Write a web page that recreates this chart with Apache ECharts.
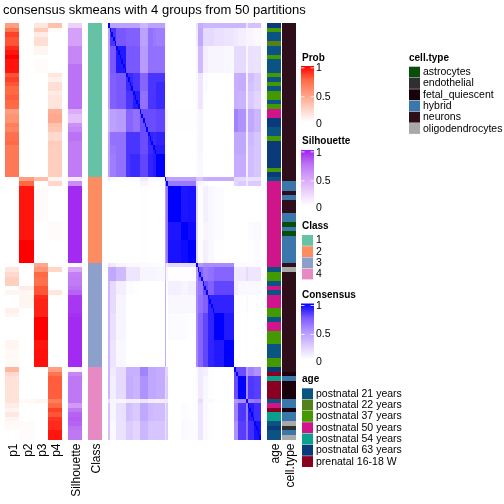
<!DOCTYPE html>
<html><head><meta charset="utf-8">
<style>html,body{margin:0;padding:0;background:#fff}#c{width:504px;height:504px}</style>
<script src="https://cdn.jsdelivr.net/npm/echarts@6/dist/echarts.min.js"></script>
</head><body><div id="c"></div>
<script>
const titleText = 'consensus skmeans with 4 groups from 50 partitions';
const probNames = ['p1','p2','p3','p4'];
const p1 = [.5,.7,.85,.8,.8,.9,.95,1,.95,.95,.95,.8,.85,.8,.75,.75,.78,.75,.75,.5,.55,.55,.65,.62,.72,.72,.75,.68,.68,.68,.68,.68,.68,.68,
 0,0,0,0,0,0,0,0,0,0,0,0,0,0,0,0,0,0,0,
 0,.13,.2,.25,.25,0,.05,0,0,0,.08,.05,0,0,0,0,0,.05,.05,.03,.03,.03,.03,
 .38,.2,.16,.15,.15,.15,.15,.15,.1,.05,.12,.06,.03,.03,0,0];
const p2 = [0,0,0,0,0,0,0,0,0,0,0,0,0,0,0,0,0,0,0,0,0,0,0,0,0,0,0,0,0,0,0,0,0,0,
 .5,.75,.95,.95,.95,.95,.95,.95,.95,.95,.95,.95,.95,.95,1,1,1,1,1,
 0,0,0,0,0,.1,.04,.05,.05,.05,0,0,0,0,0,0,0,0,0,0,0,0,0,
 0,0,0,0,0,0,0,.03,0,0,0,0,.02,.02,.02,.02];
const p3 = [.13,.28,.1,.17,.17,.05,.05,0,.02,.02,.02,0,0,0,0,0,0,0,0,0,0,0,0,0,0,0,0,0,0,0,0,0,0,0,
 .35,0,.02,.02,.02,.02,.02,.02,.02,.02,0,0,0,0,0,0,0,0,0,
 .45,.55,.75,.72,.72,.8,.8,.9,.92,.92,.92,.92,1,1,1,1,1,.95,.95,.96,.96,.96,.96,
 0,0,0,0,0,0,0,.05,0,0,0,0,0,0,0,0];
const p4 = [.33,.03,0,0,0,0,0,0,0,0,0,.13,.07,.17,.17,.1,.14,.14,.14,.42,.45,.45,.32,.3,.2,.2,.27,.26,.26,.26,.26,.26,.26,.26,
 .05,.22,0,0,0,0,0,0,0,0,.02,.02,.02,.02,0,0,0,0,0,
 0,.22,0,0,0,0,.13,0,0,0,0,0,0,0,0,0,0,0,0,0,0,0,0,
 .5,.7,.78,.78,.78,.78,.78,.65,.75,.85,.8,.88,.9,.9,.95,.95];
const silhouette = [.25,.52,.52,.52,.52,.65,.65,.65,.65,.75,.75,.75,.75,.75,.75,.75,.75,.75,.75,.45,.35,.35,.6,.65,.75,.75,.7,.7,.7,.7,.7,.7,.7,.7,
 .12,.62,.97,.97,.97,.97,.97,.97,.97,.97,.97,.97,.97,.97,.97,.97,.97,.97,.97,
 .02,.5,.68,.7,.7,.75,.8,.92,.93,.93,.93,.95,.97,.97,.97,.97,.97,.97,.97,.97,.97,.97,.97,
 .05,.65,.72,.72,.72,.72,.72,.72,.55,.72,.8,.82,.8,.75,.72,.72];
const classLabels = ['1','2','3','4'];
const classRuns = [34,19,23,16];
const ageLabels = ['postnatal 21 years','postnatal 22 years','postnatal 37 years','postnatal 50 years','postnatal 54 years','postnatal 63 years','prenatal 16-18 W'];
const ageColors = ['#0b5383','#55801a','#449800','#d0148a','#0aa08e','#0a3a7a','#8a0020'];
const age = [5,2,0,0,1,0,0,2,0,0,0,2,0,2,0,2,2,0,2,3,3,5,5,0,0,2,5,5,5,5,5,5,2,5,
 0,3,3,3,3,3,3,3,3,3,3,3,3,3,3,3,3,3,3,3,
 0,2,2,0,3,0,3,3,3,2,2,0,3,3,2,2,2,0,0,0,2,2,
 5,6,4,6,6,6,6,0,3,6,4,4,0,5,0,0];
const cellLabels = ['astrocytes','endothelial','fetal_quiescent','hybrid','neurons','oligodendrocytes'];
const cellColors = ['#0a4d0a','#2e2e33','#1a0008','#3a78ab','#2e0e1a','#a9a9a9'];
const cellType = [4,4,4,4,4,4,4,4,4,4,4,4,4,4,4,4,4,4,4,4,4,4,4,4,4,4,4,4,4,4,4,4,4,4,4,
 3,3,4,3,4,4,4,3,3,0,3,0,3,3,3,3,3,3,4,5,
 4,4,4,4,4,4,4,4,4,4,4,4,4,4,4,4,4,4,4,4,4,4,
 2,3,2,2,2,2,3,3,2,3,3,5,1,3,5];
const blockSizes = [1,4,6,2,2,4,5,3,2,5, 1,1,8,4,5, 1,3,3,4,6,6, 2,5,1,4,4];
const blockRows = [
 [100,45,45,45,45,45,35,45,45,45, 8,2,0,0,0, 15,40,35,35,35,35, 35,35,15,30,30],
 [85,75,72,72,72,45,65,62,60, 3,0,0,0,0, 10,42,18,18,15,13, 10,8,5,5,3],
 [93,75,75,75,48,65,65,65, 2,0,0,0,0, 5,33,8,5,5,4, 18,18,5,15,14],
 [88,88,85,70,85,85,85, 2,0,0,0,0, 3,12,2,0,0,0, 38,40,8,32,25],
 [90,85,70,85,85,88, 2,0,0,0,0, 3,12,2,0,0,0, 38,40,8,30,25],
 [92,65,85,85,88, 2,0,0,0,0, 3,12,1,0,0,0, 38,36,8,26,20],
 [78,78,78,80, 10,5,1,1,1, 2,5,0,0,0,0, 58,52,12,42,35],
 [90,88,90, 3,1,0,0,0, 2,5,0,0,0,0, 42,42,8,34,28],
 [92,92, 3,1,0,0,0, 2,5,0,0,0,0, 42,42,8,32,28],
 [100, 3,1,0,0,0, 2,4,0,0,0,0, 40,40,8,32,28],
 [100,50,45,45,45, 30,28,38,40,40,40, 20,18,10,15,15],
 [100,62,62,62, 12,5,2,0,0,0, 20,25,10,25,25],
 [100,94,95, 18,1,7,4,2,0, 0,0,0,0,0],
 [100,97, 18,1,5,4,2,0, 0,0,0,2,3],
 [100, 18,1,7,4,1,0, 0,0,0,1,2],
 [100,50,55,55,55,55, 3,2,2,2,2],
 [72,62,65,70,70, 10,10,18,12,12],
 [78,72,80,80, 8,4,3,3,3],
 [90,90,90, 1,1,3,1,1],
 [100,93, 0,0,1,0,0],
 [100, 0,0,1,0,0],
 [78,78,50,58,52],
 [100,55,84,82],
 [100,60,65],
 [92,87],
 [95]
];
const redRamp = ['#ffffff','#ffd0c0','#ff9e81','#ff6a45','#ff0000'];
const purpleRamp = ['#ffffff','#ecd2fb','#d6a4f8','#bc72f4','#a020f0'];
const blueRamp = ['#ffffff','#dccbff','#b597ff','#7a58ff','#0000ff'];
const classColors = ['#66c2a5','#fc8d62','#8da0cb','#e78ac3'];

const n = p1.length;
const rows = Array.from({length:n},(_,i)=>String(i));
const rowBlock = [];
blockSizes.forEach((s,b)=>{for(let k=0;k<s;k++)rowBlock.push(b);});
const classOf = [];
classRuns.forEach((s,c)=>{for(let k=0;k<s;k++)classOf.push(c);});
const cons = [];
for(let i=0;i<n;i++)for(let j=0;j<n;j++){
  const a=Math.min(rowBlock[i],rowBlock[j]), b=Math.max(rowBlock[i],rowBlock[j]);
  cons.push([j,i,i===j?1:blockRows[a][b-a]/100]);
}
const probData=[];
[p1,p2,p3,p4].forEach((col,c)=>col.forEach((v,r)=>probData.push([c,r,v])));
const single=a=>a.map((v,r)=>[0,r,v]);

const TOP=23,H=416.5;
const panels=[
 {left:5,width:57,cats:probNames,data:probData},
 {left:68,width:14,cats:['Silhouette'],data:single(silhouette)},
 {left:88,width:14,cats:['Class'],data:single(classOf)},
 {left:108,width:153,cats:rows,data:cons,noLabel:true},
 {left:267,width:14,cats:['age'],data:single(age)},
 {left:282,width:14,cats:['cell.type'],data:single(cellType)}
];
const pieces=cols=>cols.map((color,i)=>({value:i,color}));
const F='"Liberation Sans",Arial,sans-serif';
const g=[];
const txt=(x,y,t,o={})=>g.push({type:'text',x,y,silent:true,style:{text:t,fill:'#000',font:`${o.bold?'bold ':''}${o.size||10.5}px ${F}`,verticalAlign:'middle'}});
const rect=(x,y,w,h,fill)=>g.push({type:'rect',silent:true,shape:{x,y,width:w,height:h},style:{fill}});
function colorBar(title,titleY,barY,ramp,labelY){
  txt(302,titleY,title,{bold:true,size:10});
  rect(301,barY,13,56,{type:'linear',x:0,y:0,x2:0,y2:1,colorStops:ramp.slice().reverse().map((c,i)=>({offset:i/4,color:c}))});
  const tickY=[barY+1.5,barY+30.5];
  tickY.forEach(y=>{rect(301,y,3.5,.8,'#ffffff');rect(310.5,y,3.5,.8,'#ffffff');});
  ['1','0.5','0'].forEach((t,i)=>txt(316,labelY[i],t));
}
colorBar('Prob',58,66,redRamp,[68.5,96.7,124.5]);
colorBar('Silhouette',141.7,150,purpleRamp,[152.7,180.7,208.5]);
colorBar('Consensus',295,303.5,blueRamp,[306.5,334.5,362.5]);
function swatches(title,x,titleY,y0,pitch,labels,colors,lx){
  txt(x,titleY,title,{bold:true,size:10});
  labels.forEach((l,i)=>{rect(x,y0+i*pitch,11,pitch-.4,colors[i]);txt(lx,y0+i*pitch+pitch/2,l);});
}
swatches('Class',302,226,235,11.2,classLabels,classColors,316);
swatches('age',302,379,388.3,11.3,ageLabels,ageColors,316);
swatches('cell.type',409,58,66.7,11.27,cellLabels,cellColors,423);

function renderCell(params,api){
  const c=api.coord([api.value(0),api.value(1)]);
  const s=api.size([1,1]);
  const x0=Math.round(c[0]-s[0]/2), x1=Math.round(c[0]+s[0]/2);
  const y0=Math.round(c[1]-s[1]/2), y1=Math.round(c[1]+s[1]/2);
  return {type:'rect',shape:{x:x0,y:y0,width:x1-x0,height:y1-y0},style:{fill:api.visual('color')},silent:true};
}
const option={
 animation:false,
 backgroundColor:'#fff',
 title:{text:titleText,left:-2,top:-1,textStyle:{fontFamily:F,fontSize:13,fontWeight:'normal',color:'#000'}},
 grid:panels.map(p=>({left:p.left,top:TOP,width:p.width,height:H,containLabel:false})),
 xAxis:panels.map((p,i)=>({type:'category',gridIndex:i,data:p.cats,position:'bottom',axisLine:{show:false},axisTick:{show:false},splitLine:{show:false},
   axisLabel:{show:!p.noLabel,rotate:90,interval:0,margin:4,fontSize:12,fontFamily:F,color:'#000',hideOverlap:false,verticalAlign:'top',lineHeight:4}})),
 yAxis:panels.map((p,i)=>({type:'category',gridIndex:i,data:rows,inverse:true,show:false})),
 visualMap:[
  {type:'continuous',seriesIndex:0,dimension:2,min:0,max:1,show:false,inRange:{color:redRamp}},
  {type:'continuous',seriesIndex:1,dimension:2,min:0,max:1,show:false,inRange:{color:purpleRamp}},
  {type:'piecewise',seriesIndex:2,dimension:2,show:false,pieces:pieces(classColors)},
  {type:'continuous',seriesIndex:3,dimension:2,min:0,max:1,show:false,inRange:{color:blueRamp}},
  {type:'piecewise',seriesIndex:4,dimension:2,show:false,pieces:pieces(ageColors)},
  {type:'piecewise',seriesIndex:5,dimension:2,show:false,pieces:pieces(cellColors)}
 ],
 series:panels.map((p,i)=>({type:'custom',coordinateSystem:'cartesian2d',xAxisIndex:i,yAxisIndex:i,data:p.data,renderItem:renderCell,encode:{x:0,y:1},silent:true,progressive:0,animation:false,clip:false})),
 graphic:{elements:g}
};
const chart=echarts.init(document.getElementById('c'),null,{renderer:'canvas',width:504,height:504});
chart.setOption(option);
</script></body></html>
